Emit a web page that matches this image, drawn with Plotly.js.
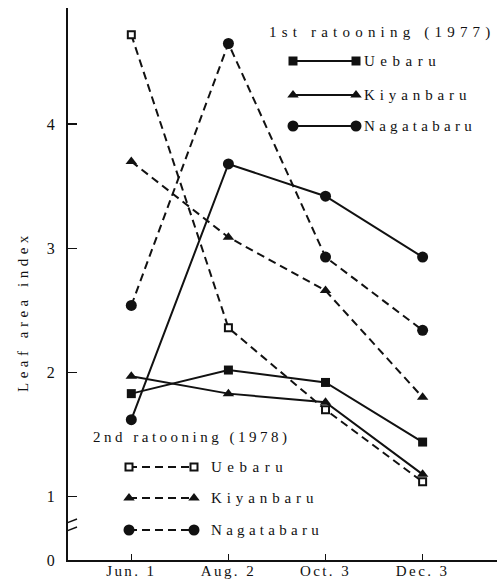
<!DOCTYPE html>
<html>
<head>
<meta charset="utf-8">
<script src="https://cdn.plot.ly/plotly-3.0.1.min.js"></script>
<style>
html, body { margin: 0; padding: 0; background: #fff; }
#chart { width: 499px; height: 582px; }
.xtick text { letter-spacing: 2.4px; }
</style>
</head>
<body>
<div id="chart"></div>
<script>
// ---- data ----
const dates = ['Jun. 1', 'Aug. 2', 'Oct. 3', 'Dec. 3'];
const uebaru1977 = [1.83, 2.02, 1.92, 1.44];
const kiyanbaru1977 = [1.97, 1.83, 1.76, 1.18];
const nagatabaru1977 = [1.62, 3.68, 3.42, 2.93];
const uebaru1978 = [4.72, 2.36, 1.70, 1.12];
const kiyanbaru1978 = [3.70, 3.09, 2.66, 1.80];
const nagatabaru1978 = [2.54, 4.65, 2.93, 2.34];
const yTickVals = [0.49, 1, 2, 3, 4];
const yTickText = ['0', '1', '2', '3', '4'];
const seriesNames = ['Uebaru', 'Kiyanbaru', 'Nagatabaru'];
const title1977 = '1st ratooning (1977)';
const title1978 = '2nd ratooning (1978)';
const yTitle = 'Leaf area index';

const K = '#111';
const FONT = 'Liberation Serif, Times New Roman, serif';
const solid = {color: K, width: 2};
const dashed = {color: K, width: 2, dash: '8px,5px'};
const mSquare = {symbol: 'square', size: 9, color: K};
const mTri = {symbol: 'triangle-up', size: 10, color: K};
const mCircle = {symbol: 'circle', size: 11, color: K};
const mOpenSq = {symbol: 'square', size: 7, color: '#fff', line: {color: K, width: 2}};

function tr(y, line, marker) {
  return {x: dates, y: y, type: 'scatter', mode: 'lines+markers', line: line, marker: marker,
          showlegend: false, hoverinfo: 'skip', cliponaxis: false};
}

const traces = [
  tr(uebaru1978, dashed, mOpenSq),
  tr(kiyanbaru1978, dashed, mTri),
  tr(nagatabaru1978, dashed, mCircle),
  tr(uebaru1977, solid, mSquare),
  tr(kiyanbaru1977, solid, mTri),
  tr(nagatabaru1977, solid, mCircle)
];

// ---- legend keys, drawn on a hidden pixel-scaled overlay axis ----
function key(x0, x1, y, line, marker) {
  return {x: [x0, x1], y: [y, y], xaxis: 'x2', yaxis: 'y2', type: 'scatter', mode: 'lines+markers',
          line: line, marker: marker, showlegend: false, hoverinfo: 'skip', cliponaxis: false};
}
traces.push(key(293, 356, 61, solid, mSquare));
traces.push(key(293, 356, 95, solid, mTri));
traces.push(key(293, 356, 126, solid, mCircle));
traces.push(key(129, 194, 467, dashed, mOpenSq));
traces.push(key(129, 194, 498, dashed, mTri));
traces.push(key(129, 194, 530, dashed, mCircle));

function sp(t, ls) { return '<span style="letter-spacing:' + ls + 'px">' + t + '</span>'; }
function txt(x, y, t, ls, extra) {
  return Object.assign({x: x, y: y, xref: 'x2', yref: 'y2', text: sp(t, ls), showarrow: false,
          xanchor: 'left', yanchor: 'middle', font: {family: FONT, size: 15, color: K}}, extra || {});
}

const annotations = [
  txt(267, 32, title1977, 5.2),
  txt(362, 61, seriesNames[0], 5.5),
  txt(362, 95, seriesNames[1], 4.9),
  txt(362, 126, seriesNames[2], 4.3),
  txt(91, 437, title1978, 3.5),
  txt(209, 467, seriesNames[0], 5.5),
  txt(209, 498, seriesNames[1], 4.9),
  txt(209, 530, seriesNames[2], 4.3),
  txt(-0.105, 311, yTitle, 4.5, {xref: 'paper', textangle: -90, xanchor: 'center'})
];

const shapes = [
  {type: 'rect', xref: 'x2', yref: 'y2', x0: 64, x1: 72, y0: 523, y1: 530, fillcolor: '#fff', line: {width: 0}, layer: 'above'},
  {type: 'line', xref: 'x2', yref: 'y2', x0: 59, y0: 526, x1: 77, y1: 519, line: {color: K, width: 1.5}, layer: 'above'},
  {type: 'line', xref: 'x2', yref: 'y2', x0: 59, y0: 534, x1: 77, y1: 527, line: {color: K, width: 1.5}, layer: 'above'}
];

const layout = {
  width: 499, height: 582,
  margin: {l: 68, r: 2, t: 8, b: 22, pad: 0},
  paper_bgcolor: '#fff', plot_bgcolor: '#fff',
  font: {family: FONT, size: 15, color: K},
  showlegend: false,
  xaxis: {
    type: 'category', range: [-0.652, 3.766], showgrid: false, zeroline: false,
    showline: true, linecolor: K, linewidth: 2,
    ticks: 'inside', ticklen: 6, tickwidth: 1.5, tickcolor: K,
    tickfont: {family: FONT, size: 15, color: K}, ticklabelstandoff: -4
  },
  yaxis: {
    range: [0.49, 4.936], showgrid: false, zeroline: false,
    showline: true, linecolor: K, linewidth: 2,
    tickmode: 'array', tickvals: yTickVals, ticktext: yTickText,
    ticks: 'inside', ticklen: 9, tickwidth: 1.5, tickcolor: K,
    tickfont: {family: FONT, size: 16, color: K}, ticklabelstandoff: 8
  },
  xaxis2: {overlaying: 'x', range: [68, 497], visible: false, fixedrange: true},
  yaxis2: {overlaying: 'y', range: [560, 8], visible: false, fixedrange: true},
  annotations: annotations,
  shapes: shapes
};

Plotly.newPlot('chart', traces, layout, {staticPlot: true, displayModeBar: false});
</script>
</body>
</html>
